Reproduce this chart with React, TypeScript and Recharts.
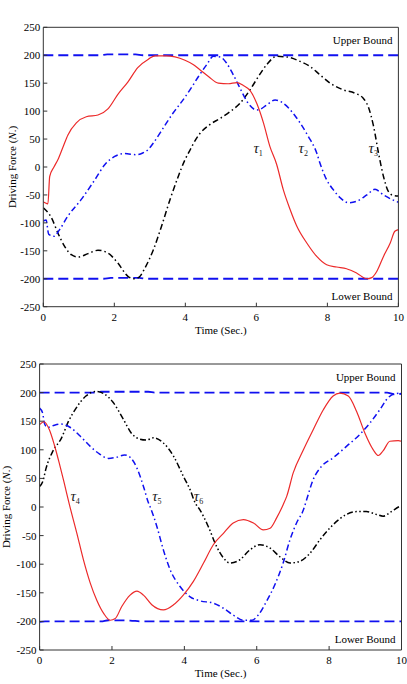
import React from 'react';
import { ComposedChart, Line, XAxis, YAxis, ReferenceDot } from 'recharts';

type Pt = [number, number];

const FONT = '"Liberation Serif", "Times New Roman", serif';

const TIME_TICKS = [0, 2, 4, 6, 8, 10];
const FORCE_TICKS = [-250, -200, -150, -100, -50, 0, 50, 100, 150, 200, 250];

// ---- top panel -----------------------------------------------------
const tau1: Pt[] = [
  [0, -62], [0.05, -64], [0.13, -66], [0.18, -17], [0.3, 0], [0.41, 13], [0.55, 35],
  [0.69, 57], [0.93, 79], [1.21, 90], [1.54, 93], [1.82, 104], [2.1, 130], [2.38, 152],
  [2.66, 178], [2.96, 193], [3.15, 199], [3.47, 199], [3.71, 197], [3.99, 191], [4.23, 183],
  [4.41, 174], [4.65, 162], [4.93, 150], [5.21, 149], [5.45, 151], [5.63, 146], [5.82, 137],
  [6.01, 114], [6.2, 79], [6.38, 37], [6.57, 5], [6.76, -41], [6.95, -76], [7.14, -106],
  [7.42, -136], [7.7, -160], [7.98, -175], [8.26, -179], [8.54, -182], [8.83, -190],
  [9.11, -200], [9.25, -198], [9.39, -187], [9.58, -160], [9.77, -136], [9.9, -115], [10, -112],
];

const tau2: Pt[] = [
  [0, -97], [0.08, -95], [0.15, -120], [0.3, -124], [0.45, -113], [0.69, -88], [1.07, -58],
  [1.45, -23], [1.73, 4], [2.01, 19], [2.29, 24], [2.62, 22], [2.8, 25], [2.95, 31], [3.1, 43],
  [3.29, 61], [3.47, 79], [3.66, 97], [3.9, 117], [4.13, 138], [4.37, 162], [4.6, 183],
  [4.79, 198], [4.98, 197], [5.16, 186], [5.35, 165], [5.54, 141], [5.77, 114], [6.01, 102],
  [6.1, 103], [6.29, 111], [6.53, 120], [6.76, 114], [7.0, 99], [7.23, 79], [7.46, 55],
  [7.7, 25], [7.79, 7], [7.98, -23], [8.17, -41], [8.36, -55], [8.59, -64], [8.83, -61],
  [9.11, -50], [9.34, -40], [9.58, -50], [9.81, -58], [10, -63],
];

const tau3: Pt[] = [
  [0, -73], [0.23, -91], [0.41, -118], [0.6, -142], [0.79, -157], [0.98, -161], [1.26, -155],
  [1.54, -149], [1.82, -154], [2.1, -172], [2.39, -196], [2.57, -200], [2.7, -197],
  [2.86, -181], [3.1, -148], [3.33, -106], [3.57, -58], [3.8, -17], [3.99, 13], [4.13, 30],
  [4.3, 50], [4.41, 60], [4.69, 76], [4.98, 87], [5.26, 99], [5.54, 114], [5.82, 138],
  [6.06, 162], [6.29, 183], [6.57, 198], [6.85, 197], [7.23, 189], [7.51, 180], [7.79, 165],
  [8.08, 150], [8.45, 138], [8.78, 132], [9.01, 123], [9.15, 108], [9.3, 73], [9.44, 25],
  [9.58, -17], [9.72, -44], [9.86, -51], [10, -52],
];

const upperTop: Pt[] = [[0, 200], [1.6, 200], [1.8, 201.5], [2.6, 201.5], [2.8, 200], [10, 200]];
const lowerTop: Pt[] = [[0, -200], [1.7, -200], [1.9, -198.5], [2.7, -198.5], [2.9, -200], [10, -200]];

// ---- bottom panel --------------------------------------------------
const tau4: Pt[] = [
  [0, 144], [0.12, 149], [0.27, 135], [0.41, 108], [0.55, 75], [0.68, 42], [0.82, 5],
  [1.03, -46], [1.21, -92], [1.4, -133], [1.58, -163], [1.77, -186], [1.95, -198],
  [2.09, -195], [2.27, -174], [2.5, -154], [2.69, -147], [2.87, -154], [3.1, -171],
  [3.42, -180], [3.7, -171], [3.97, -154], [4.25, -130], [4.53, -98], [4.8, -66], [5.08, -46],
  [5.35, -28], [5.63, -22], [5.91, -28], [6.18, -40], [6.37, -37], [6.55, -19], [6.73, 4],
  [6.83, 19], [7.01, 60], [7.29, 100], [7.56, 135], [7.84, 170], [8.11, 194], [8.3, 199],
  [8.53, 194], [8.76, 167], [8.99, 129], [9.22, 100], [9.36, 90], [9.49, 98], [9.68, 115],
  [9.91, 116], [10, 115],
];

const tau5: Pt[] = [
  [0, 173], [0.08, 165], [0.14, 145], [0.22, 139], [0.41, 143], [0.6, 145], [0.85, 139],
  [1.12, 124], [1.4, 106], [1.67, 92], [1.9, 85], [2.13, 87], [2.35, 91], [2.5, 87],
  [2.69, 68], [2.87, 36], [3.01, 7], [3.05, 1], [3.24, -34], [3.42, -75], [3.61, -110],
  [3.88, -139], [4.16, -157], [4.43, -164], [4.8, -168], [5.08, -177], [5.35, -189],
  [5.63, -198], [5.86, -198], [6.04, -189], [6.27, -165], [6.5, -136], [6.73, -98],
  [6.92, -57], [7.1, -28], [7.29, -5], [7.38, 13], [7.56, 48], [7.79, 71], [8.11, 86],
  [8.48, 106], [8.85, 127], [9.13, 147], [9.4, 170], [9.63, 191], [9.82, 198], [10, 199],
];

const tau6: Pt[] = [
  [0, 36], [0.09, 45], [0.18, 68], [0.37, 98], [0.6, 120], [0.8, 150], [1.0, 172], [1.28, 194],
  [1.55, 202], [1.78, 198], [2.03, 183], [2.3, 155], [2.55, 128], [2.75, 119], [2.95, 117],
  [3.15, 121], [3.42, 112], [3.7, 89], [3.97, 54], [4.16, 30], [4.3, 7], [4.43, -5],
  [4.66, -34], [4.89, -69], [5.08, -89], [5.26, -98], [5.54, -92], [5.81, -75], [6.09, -66],
  [6.37, -72], [6.64, -87], [6.92, -98], [7.19, -95], [7.47, -81], [7.75, -57], [8.11, -31],
  [8.48, -13], [8.76, -8], [9.03, -8], [9.31, -13], [9.49, -16], [9.72, -8], [9.95, 1], [10, 2],
];

const upperBottom: Pt[] = [
  [0, 200], [1.5, 200], [1.7, 201.5], [3.0, 201.5], [3.2, 200], [9.6, 200], [9.8, 197], [10, 198],
];
const lowerBottom: Pt[] = [
  [0, -201], [0.15, -200], [1.7, -200], [1.9, -198], [2.5, -198.5], [2.8, -200], [10, -200],
];

// label anchors (time, force)
const TOP_TAU_LABELS: [number, number, number][] = [[6.05, 34], [7.32, 34], [9.29, 34]];
const BOTTOM_TAU_LABELS: [number, number, number][] = [[0.98, 19, 4], [3.24, 19, 5], [4.39, 19, 6]];

const toRows = (pts: Pt[]) => pts.map(([t, f]) => ({ t, f }));

interface Series {
  key: string;
  pts: Pt[];
  color: string;
  width: number;
  dash?: string;
}

const RED = '#ec2a2a';
const BLUE = '#1010f0';
const DASH_DOT = '6 3 1.5 3';
const DASH_DOT_DOT = '6 2.5 1.5 2.5 1.5 2.5';
const BOUND_DASH = '10 5';

const topSeries: Series[] = [
  { key: 'ub', pts: upperTop, color: BLUE, width: 1.8, dash: BOUND_DASH },
  { key: 'lb', pts: lowerTop, color: BLUE, width: 1.8, dash: BOUND_DASH },
  { key: 't3', pts: tau3, color: '#000', width: 1.5, dash: DASH_DOT },
  { key: 't2', pts: tau2, color: BLUE, width: 1.5, dash: DASH_DOT },
  { key: 't1', pts: tau1, color: RED, width: 1.2 },
];

const bottomSeries: Series[] = [
  { key: 'ub', pts: upperBottom, color: BLUE, width: 1.8, dash: BOUND_DASH },
  { key: 'lb', pts: lowerBottom, color: BLUE, width: 1.8, dash: BOUND_DASH },
  { key: 't6', pts: tau6, color: '#000', width: 1.5, dash: DASH_DOT_DOT },
  { key: 't5', pts: tau5, color: BLUE, width: 1.5, dash: DASH_DOT },
  { key: 't4', pts: tau4, color: RED, width: 1.2 },
];

const tickStyle = { fill: '#000', fontSize: 11, fontFamily: FONT };
const frame = { stroke: '#333', strokeWidth: 1 };

interface PanelProps {
  series: Series[];
  tauLabels: [number, number, number][];
  height: number;
  margin: { top: number; right: number; bottom: number; left: number };
  yAxisWidth: number;
  xAxisHeight: number;
  titleOffset: number;
}

function Panel({ series, tauLabels, height, margin, yAxisWidth, xAxisHeight, titleOffset }: PanelProps) {
  return (
    <ComposedChart width={407} height={height} margin={margin}>
      <XAxis
        xAxisId={0}
        dataKey="t"
        type="number"
        domain={[0, 10]}
        ticks={TIME_TICKS}
        allowDataOverflow
        height={xAxisHeight}
        tickSize={-4}
        tickMargin={10}
        tick={tickStyle}
        axisLine={frame}
        tickLine={frame}
        label={{
          content: ({ viewBox }: any) => (
            <text
              x={viewBox.x + viewBox.width / 2}
              y={viewBox.y + 27}
              textAnchor="middle"
              fontFamily={FONT}
              fontSize={11}
              fill="#000"
            >
              Time (Sec.)
            </text>
          ),
        }}
      />
      <XAxis
        xAxisId="top"
        orientation="top"
        dataKey="t"
        type="number"
        domain={[0, 10]}
        ticks={TIME_TICKS}
        height={1}
        tickSize={-4}
        tickFormatter={() => ''}
        axisLine={frame}
        tickLine={frame}
      />
      <YAxis
        yAxisId={0}
        type="number"
        domain={[-250, 250]}
        ticks={FORCE_TICKS}
        allowDataOverflow
        width={yAxisWidth}
        tickSize={-4}
        tickMargin={7}
        tick={tickStyle}
        axisLine={frame}
        tickLine={frame}
        label={{
          content: ({ viewBox }: any) => {
            const cx = viewBox.x + titleOffset;
            const cy = viewBox.y + viewBox.height / 2;
            return (
              <text
                x={cx}
                y={cy}
                transform={`rotate(-90 ${cx} ${cy})`}
                textAnchor="middle"
                dominantBaseline="central"
                fontFamily={FONT}
                fontSize={11}
                fill="#000"
              >
                Driving Force (<tspan fontStyle="italic">N</tspan>.)
              </text>
            );
          },
        }}
      />
      <YAxis
        yAxisId="right"
        orientation="right"
        type="number"
        domain={[-250, 250]}
        ticks={FORCE_TICKS}
        width={1}
        tickSize={-4}
        tickFormatter={() => ''}
        axisLine={frame}
        tickLine={frame}
      />
      {series.map((s) => (
        <Line
          key={s.key}
          data={toRows(s.pts)}
          dataKey="f"
          type="monotone"
          stroke={s.color}
          strokeWidth={s.width}
          strokeDasharray={s.dash}
          dot={false}
          activeDot={false}
          isAnimationActive={false}
        />
      ))}
      {tauLabels.map(([t, f, n]) => (
        <ReferenceDot
          key={`tau${n}`}
          x={t}
          y={f}
          r={0}
          stroke="none"
          fill="none"
          label={{
            content: ({ viewBox }: any) => (
              <text x={viewBox.x} y={viewBox.y + 5} textAnchor="middle" fontFamily={FONT} fill="#222">
                <tspan fontStyle="italic" fontSize={15}>τ</tspan>
                <tspan fontSize={8} dy={3}>{n}</tspan>
              </text>
            ),
          }}
        />
      ))}
      <ReferenceDot
        x={10}
        y={228}
        r={0}
        stroke="none"
        fill="none"
        label={{
          content: ({ viewBox }: any) => (
            <text x={viewBox.x - 6} y={viewBox.y + 4} textAnchor="end" fontFamily={FONT} fontSize={11} fill="#000">
              Upper Bound
            </text>
          ),
        }}
      />
      <ReferenceDot
        x={10}
        y={-230}
        r={0}
        stroke="none"
        fill="none"
        label={{
          content: ({ viewBox }: any) => (
            <text x={viewBox.x - 6} y={viewBox.y + 4} textAnchor="end" fontFamily={FONT} fontSize={11} fill="#000">
              Lower Bound
            </text>
          ),
        }}
      />
    </ComposedChart>
  );
}

const topTau = TOP_TAU_LABELS.map(([t, f], i) => [t, f, i + 1] as [number, number, number]);

export default function App() {
  return (
    <div style={{ position: 'absolute', left: 0, top: 0, width: 407, height: 684, background: '#fff' }}>
      <Panel
        series={topSeries}
        tauLabels={topTau}
        height={340}
        margin={{ top: 26.3, right: 7.6, bottom: 0, left: 0 }}
        yAxisWidth={43.3}
        xAxisHeight={33.3}
        titleOffset={12}
      />
      <Panel
        series={bottomSeries}
        tauLabels={BOTTOM_TAU_LABELS}
        height={344}
        margin={{ top: 23, right: 4.5, bottom: 0, left: 0 }}
        yAxisWidth={39.6}
        xAxisHeight={34}
        titleOffset={6}
      />
    </div>
  );
}
